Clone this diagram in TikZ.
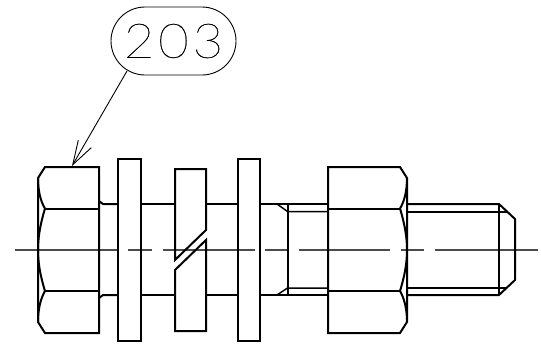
\documentclass[tikz,border=0pt]{standalone}
\usepackage{fontspec}
\usetikzlibrary{arrows.meta,shapes.misc}
\newfontfamily\balloonfont[FakeBold=0.5,FakeStretch=1.1]{Lato Thin}

\tikzset{
  outline/.style={line width=2pt,line join=miter},
  thinline/.style={line width=1.5pt},
  centerline/.style={line width=1.4pt,draw=black!70},
  leader/.style={line width=0.9pt}
}

\begin{document}
\begin{tikzpicture}[x=1pt,y=-1pt]
\useasboundingbox (0,0) rectangle (541,349);

\path (173.5,41) node (balloon) [shape=rounded rectangle,draw,leader,minimum width=125pt,minimum height=68pt,inner sep=0pt] {\balloonfont\fontsize{48}{48}\selectfont\addfontfeature{LetterSpace=8}203};
\coordinate (tip) at (72,166);
\draw [leader,-{Straight Barb[length=24pt,width=15pt]}] (127,71) to (tip);

% center line
\foreach \xa/\xb in {15/118,128/152,163/255,265/287,299/390,401/424,435/538}
  \draw [centerline] (\xa,250) -- (\xb,250);

% bolt head
\draw [outline] (99,167) -- (45,167) -- (38,178) -- (38,322) -- (45,333) -- (99,333) -- cycle;
\draw [outline] (45,208.5) -- (99,208.5);
\draw [outline] (45,291) -- (99,291);
\draw [outline] (38,178) .. controls (38,192) and (41,202) .. (45,208.5);
\draw [outline] (45,208.5) .. controls (40,225) and (38,238) .. (38,250) .. controls (38,262) and (40,275) .. (45,291);
\draw [outline] (45,291) .. controls (41,298) and (38,308) .. (38,322);

% shaft
\draw [outline] (99,201) -- (103,204) -- (118,204);
\draw [outline] (99,298) -- (103,295) -- (118,295);
\foreach \xa/\xb in {141/175,206/238,260/328}
  \draw [outline] (\xa,204) -- (\xb,204) (\xa,295) -- (\xb,295);

% washers
\draw [outline] (118,159) rectangle (141,341);
\draw [outline] (238,159) rectangle (260,341);

% split washer
\draw [outline] (175,169) -- (206,169) -- (206,230) -- (175,260) -- cycle;
\draw [outline] (206,240) -- (175,270) -- (175,331) -- (206,331) -- cycle;

% thread runout
\draw [outline] (287.5,204) -- (287.5,295);
\draw [thinline] (277,204) -- (287.5,211.5) -- (328,211.5);
\draw [thinline] (277,295) -- (287.5,288) -- (328,288);

% nut
\draw [outline] (328,167) -- (400,167) -- (407,178) -- (407,322) -- (400,333) -- (328,333) -- cycle;
\draw [outline] (328,208.5) -- (400,208.5);
\draw [outline] (328,291) -- (400,291);
\draw [outline] (407,178) .. controls (407,192) and (404,202) .. (400,208.5);
\draw [outline] (400,208.5) .. controls (405,225) and (407,238) .. (407,250) .. controls (407,262) and (405,275) .. (400,291);
\draw [outline] (400,291) .. controls (404,298) and (407,308) .. (407,322);

% thread end
\draw [outline] (407,204) -- (499,204) -- (515,219) -- (515,280) -- (499,295) -- (407,295);
\draw [outline] (499,204) -- (499,295);
\draw [thinline] (407,212) -- (507,212);
\draw [thinline] (407,288) -- (507,288);
\end{tikzpicture}
\end{document}
